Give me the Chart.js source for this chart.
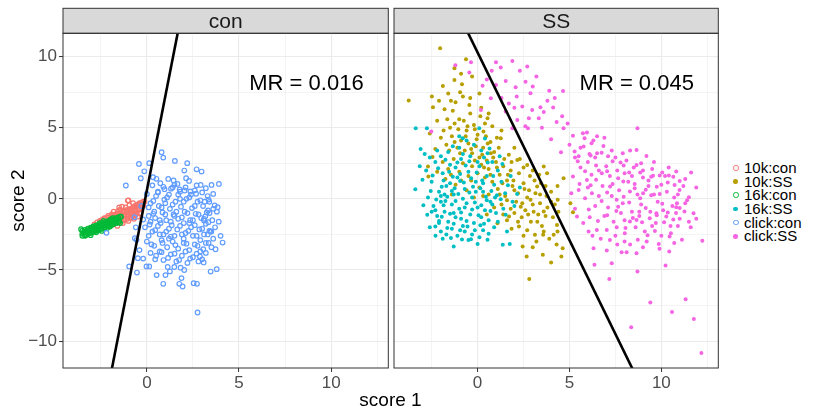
<!DOCTYPE html>
<html>
<head>
<meta charset="utf-8">
<script src="https://cdn.jsdelivr.net/npm/chart.js@4.4.1/dist/chart.umd.min.js"></script>
<style>
  body { margin: 0; background: #fff; font-family: "Liberation Sans", Arial, sans-serif; }
  #wrap { position: relative; width: 818px; height: 410px; overflow: hidden; }
  canvas { position: absolute; top: 0; }
  #c1 { left: 0; }
  #c2 { left: 392px; }
  #xtitle { position: absolute; top: 389px; left: 0; width: 781px; text-align: center; font-size: 19px; color: #000; line-height: 22px; }
  #legend { position: absolute; left: 733px; top: 161px; font-size: 15px; color: #000; }
  .row { display: flex; align-items: center; height: 13.7px; line-height: 13.7px; }
  .mk { width: 5.5px; height: 5.5px; border-radius: 50%; box-sizing: border-box; margin-right: 5.5px; }
</style>
</head>
<body>
<div id="wrap">
  <canvas id="c1" width="392" height="410"></canvas>
  <canvas id="c2" width="330" height="410"></canvas>
  <div id="xtitle">score 1</div>
  <div id="legend"></div>
</div>
<script>
// facet labels and per-panel model accuracy text
const panels = ['con', 'SS'];
const mrLabels = ['MR = 0.016', 'MR = 0.045'];
const mrPos = [8.66, 8.08];

// group names and colours (ggplot default hue palette)
const groups = ['10k:con', '10k:SS', '16k:con', '16k:SS', 'click:con', 'click:SS'];
const colors = ['#F8766D', '#B79F00', '#00BA38', '#00BFC4', '#619CFF', '#F564E3'];

// axis ranges and ticks
const xRange = [-4.55, 13.1];
const yRange = [-11.89, 11.64];
const xTicks = [-2.5, 0, 2.5, 5, 7.5, 10, 12.5];
const yTicks = [-10, -7.5, -5, -2.5, 0, 2.5, 5, 7.5, 10];

// discriminant lines, endpoints [x, y]
const conLine = [[-1.907, -12], [1.725, 12]];
const ssLine = [[8.448, -12], [-0.648, 12]];

// scores, control panel
const k10con = [
  [-3.2,-2.3],[-3.0,-2.2],[-2.8,-2.0],[-2.6,-1.95],[-2.4,-1.8],[-2.2,-1.6],[-2.0,-1.5],[-1.9,-1.3],[-1.8,-1.5],[-1.7,-1.2],
  [-1.6,-1.4],[-1.5,-1.0],[-1.4,-1.3],[-1.3,-0.9],[-1.2,-1.1],[-1.1,-0.8],[-1.0,-1.2],[-0.9,-0.7],[-0.8,-1.0],[-0.7,-0.6],
  [-0.6,-0.8],[-0.5,-0.4],[-0.4,-0.7],[-0.3,-0.3],[-0.2,-0.2],[-1.0,-0.1],[-1.5,-0.6],[-1.8,-0.9],[-2.1,-1.2],[-1.35,-0.55],
  [-0.95,-0.45],[-0.75,-0.3],[-1.65,-1.05],[-1.25,-1.45],[-0.55,-1.0],[-2.3,-1.35],[-0.85,-1.3],[-1.55,-0.85],[-1.15,-0.6],[-0.65,-0.5],
  [-0.13,-0.19],[-1.03,-0.12],[-0.40,-0.30],[-0.76,-0.65],[-1.45,-0.75],[-1.9,-1.1],[-2.5,-1.6],
  [-2.4,-1.45],[-2.4,-1.75],[-2.25,-1.38],[-2.25,-1.7],[-2.1,-1.3],[-2.1,-1.62],[-1.95,-1.22],[-1.95,-1.55],[-1.95,-1.85],[-1.8,-1.15],
  [-1.8,-1.48],[-1.8,-1.78],[-1.65,-1.08],[-1.65,-1.4],[-1.65,-1.7],[-1.5,-1.32],[-1.5,-1.62],[-1.35,-0.92],[-1.35,-1.25],[-1.35,-1.55],
  [-1.2,-0.85],[-1.2,-1.18],[-1.2,-1.48],[-1.05,-0.78],[-1.05,-1.1],[-1.05,-1.4],[-0.9,-1.02],[-0.9,-1.32],[-0.75,-0.62],[-0.75,-0.95],
  [-0.75,-1.22],[-0.6,-0.55],[-0.6,-0.86],[-0.6,-1.12],[-0.45,-0.47],[-0.45,-0.78],[-0.3,-0.4],[-0.3,-0.7],[-0.2,-0.5],[-2.55,-1.55],
  [-2.7,-1.65],[-2.85,-1.8],[-1.1,-0.95],[-1.4,-1.1],[-0.8,-0.8],[-1.7,-1.25],
  [-1.3,-1.7],[-1.0,-1.55],[-0.7,-1.4],[-0.5,-1.25],[-1.6,-1.9],[-0.35,-1.0]
];
const k16con = [
  [-3.57,-2.13],[-3.5,-2.45],[-3.4,-2.3],[-3.3,-2.5],[-3.2,-2.2],[-3.1,-2.4],[-3.0,-2.1],[-2.9,-2.3],[-2.8,-2.0],[-2.7,-2.2],
  [-2.6,-1.9],[-2.5,-2.1],[-2.4,-1.8],[-2.3,-2.0],[-2.2,-1.7],[-2.1,-1.9],[-2.0,-1.6],[-1.9,-1.8],[-1.8,-1.5],[-1.7,-1.7],
  [-1.6,-1.4],[-1.5,-1.55],[-1.4,-1.25],[-1.45,-1.7],[-2.75,-2.35],[-3.05,-2.55],[-2.45,-2.25],[-2.15,-2.05],[-1.85,-1.35],[-2.55,-1.7],
  [-3.25,-2.35],[-2.0,-1.95],[-1.65,-1.6],[-2.35,-1.55],[-2.9,-1.95],[-3.35,-2.6],[-2.65,-2.15],[-1.95,-1.45],
  [-3.5,-2.23],[-3.5,-2.6],[-3.35,-2.18],[-3.35,-2.55],[-3.2,-2.1],[-3.2,-2.45],[-3.05,-2.02],[-3.05,-2.4],[-2.9,-1.94],[-2.9,-2.33],
  [-2.75,-1.87],[-2.75,-2.25],[-2.6,-1.8],[-2.6,-2.18],[-2.45,-1.72],[-2.45,-2.1],[-2.3,-1.65],[-2.3,-2.03],[-2.15,-1.58],[-2.15,-1.95],
  [-2.0,-1.5],[-2.0,-1.88],[-1.85,-1.43],[-1.85,-1.8],[-1.7,-1.36],[-1.7,-1.72],[-1.55,-1.3],[-1.55,-1.64],[-1.45,-1.25],
  [-3.43,-2.4],[-3.28,-2.32],[-3.13,-2.25],[-2.98,-2.17],[-2.83,-2.1],[-2.68,-2.02],[-2.53,-1.95],[-2.38,-1.88],[-2.23,-1.8],[-2.08,-1.73],
  [-1.93,-1.66],[-1.78,-1.58],[-1.63,-1.5]
];
const clickCon = [
  [0.80,3.28],[0.89,2.90],[1.52,2.67],[2.19,2.51],[-0.43,2.46],[0.13,2.51],[-0.14,1.94],[2.70,2.08],[2.97,1.92],[2.03,1.99],
  [-1.14,0.94],[3.91,1.05],[3.51,0.98],[2.92,0.98],[3.39,-0.21],[3.84,-0.59],[4.11,-3.07],[3.73,-3.54],[3.08,-4.47],[3.46,-5.11],
  [3.79,-4.94],[2.75,-7.99],[2.54,-5.93],[2.72,-5.97],[1.94,-6.16],[1.76,-5.97],[0.89,-5.97],[1.88,-5.57],[1.01,-5.36],[0.53,-5.36],
  [-0.54,-5.18],[-0.96,-4.75],[-0.49,-4.17],[-0.02,-4.75],[0.13,-4.75],[-0.65,-2.76],[-0.56,-2.88],[-0.67,-1.29],[-2.19,-2.39],[3.39,-2.25],
  [3.34,-1.64],[3.10,-1.52],[2.88,-4.05],[3.06,-3.54],[-0.33,1.45],[0.34,1.52],[0.52,1.41],[1.16,1.40],[1.45,1.29],[1.66,1.05],
  [2.13,1.45],[2.29,1.26],[0.73,1.10],[0.96,0.68],[1.31,0.72],[1.78,0.66],[2.05,0.59],[2.36,0.52],[2.67,0.36],[3.14,-0.20],
  [3.68,-0.46],[3.32,-0.81],[3.17,-1.23],[3.45,-2.29],[1.13,-4.79],[1.49,-4.79],[1.25,-5.10],[1.83,-4.84],[2.03,-5.00],
  [0.2,-0.3],[0.5,0.2],[0.8,-0.6],[1.1,0.1],[1.4,-0.4],[1.7,0.3],[2.0,-0.2],[2.3,0.1],[2.6,-0.5],[2.9,-0.1],
  [0.1,-1.2],[0.4,-0.9],[0.7,-1.5],[1.0,-1.1],[1.3,-1.6],[1.6,-0.9],[1.9,-1.3],[2.2,-1.0],[2.5,-1.5],[2.8,-1.1],[3.1,-1.4],[3.4,-1.0],
  [-0.1,-2.0],[0.3,-2.3],[0.6,-1.9],[0.9,-2.5],[1.2,-2.1],[1.5,-2.6],[1.8,-1.9],[2.1,-2.4],[2.4,-2.0],[2.7,-2.6],[3.0,-2.1],[3.3,-2.5],[3.7,-2.0],
  [0.0,-3.0],[0.4,-3.3],[0.8,-2.9],[1.1,-3.4],[1.4,-3.0],[1.7,-3.5],[2.0,-3.1],[2.3,-3.6],[2.6,-3.2],[2.9,-3.7],[3.2,-3.1],[3.5,-3.4],
  [0.5,-4.0],[0.9,-4.3],[1.3,-3.9],[1.6,-4.4],[1.9,-4.0],[2.2,-4.5],[2.5,-4.1],[2.8,-4.4],
  [1.0,-0.3],[1.5,-1.2],[2.0,-2.8],[2.3,-1.7],[1.2,-2.8],[0.7,-3.7],[2.9,-2.9],[3.6,-2.8],[0.2,-1.6],[1.8,0.0],
  [2.6,0.6],[1.4,0.8],[0.6,0.5],[-0.3,-0.5],[-0.6,-2.0],[-0.4,-3.6],[-0.2,-4.2],[3.9,-1.6],[4.0,-2.6],[3.8,-0.9],[3.3,0.2],
  [0.3,0.95],[0.9,0.85],[1.5,1.0],[2.1,0.8],[2.7,0.95],[3.2,0.75],[0.0,0.35],[0.6,0.45],[1.2,0.3],[1.8,0.5],
  [2.4,0.3],[3.0,0.45],[3.6,0.35],[0.35,-0.15],[0.95,-0.05],[1.55,-0.2],[2.15,0.0],[2.75,-0.2],[3.35,-0.05],[0.1,-0.6],
  [0.65,-0.5],[1.25,-0.7],[1.85,-0.55],[2.45,-0.65],[3.05,-0.5],[3.6,-0.7],[0.35,-1.05],[0.85,-0.95],[1.45,-1.1],[2.05,-0.9],
  [2.65,-1.05],[3.25,-0.95],[-0.2,-1.45],[0.45,-1.35],[1.05,-1.5],[1.7,-1.4],[2.35,-1.5],[2.95,-1.35],[3.55,-1.5],[0.15,-1.8],
  [0.75,-1.7],[1.35,-1.85],[2.0,-1.7],[2.6,-1.85],[3.2,-1.75],[0.45,-2.2],[1.05,-2.3],[1.65,-2.15],[2.25,-2.25],[2.85,-2.15],
  [3.5,-2.3],[0.1,-2.6],[0.7,-2.5],[1.3,-2.65],[1.9,-2.5],[2.5,-2.6],[3.1,-2.5],[0.25,-3.2],[0.85,-3.1],[1.55,-3.25],
  [2.15,-3.15],[2.75,-3.3],[3.35,-3.1],[0.2,-3.8],[0.8,-3.75],[1.5,-3.85],[2.1,-3.7],[2.7,-3.85],[3.2,-3.8],[0.45,-4.25],
  [1.15,-4.15],[1.75,-4.3],[2.35,-4.2],[3.0,-4.25]
];

// scores, SS panel
const k10ss = [
  [-2.04,10.59],[-3.75,6.91],[-0.63,9.81],[-1.26,9.18],[-0.85,8.06],[-1.89,7.94],[-2.49,7.19],[-2.43,6.44],[-1.26,8.36],[-2.70,2.27],
  [-2.68,1.57],[2.81,-5.64],[2.67,-4.05],[3.55,-3.93],[4.00,-4.47],[4.56,-4.05],[4.63,-3.47],[2.45,-3.35],[3.12,-2.53],[3.57,-2.53],
  [4.14,-2.53],[4.32,-1.83],[5.05,-0.30],[5.19,-0.94],[4.36,-0.07],[4.68,1.45],[2.25,-1.94],[1.71,-1.24],[1.08,-1.71],[1.26,4.26],
  [0.54,5.67],[0.32,4.73],[0.72,3.21],[2.16,2.74],[2.70,2.39],[3.60,2.27],[3.78,1.80],[3.24,0.87],[2.88,-0.07],[2.43,-0.30],[3.60,-0.89],
  [-2.2,5.5],[-1.8,6.3],[-1.5,5.0],[-1.2,6.8],[-1.0,5.6],[-0.8,7.2],[-0.6,4.8],[-0.4,6.0],[-0.2,5.2],[0.0,4.5],[0.2,6.4],[0.4,5.3],
  [-2.0,4.3],[-1.7,3.8],[-1.4,4.4],[-1.1,3.6],[-0.9,4.1],[-0.7,3.4],[-0.5,3.9],[-0.3,3.2],[-0.1,3.7],[0.1,2.9],[0.3,3.6],[0.5,2.7],[0.7,4.0],[0.9,3.3],
  [-1.9,2.6],[-1.6,2.1],[-1.3,2.8],[-1.0,1.9],[-0.8,2.5],[-0.5,1.6],[-0.3,2.3],[0.0,1.8],[0.2,2.4],[0.4,1.5],[0.6,2.1],[0.8,1.2],[1.0,2.6],[1.2,1.7],[1.4,2.3],[1.6,1.3],[1.8,2.0],
  [-1.2,1.0],[-0.6,0.6],[0.1,0.8],[0.6,0.3],[1.1,0.7],[1.5,0.2],[1.9,0.9],[2.2,0.4],[2.5,1.1],[2.8,0.6],[3.1,1.3],[3.4,0.3],[3.7,0.9],[4.0,0.5],[4.2,-0.4],
  [1.3,-0.4],[1.8,-0.7],[2.1,-0.2],[2.6,-0.8],[3.0,-0.4],[3.3,-1.1],[3.8,-0.6],[2.4,-1.3],[2.9,-1.6],[3.5,-1.9],[4.1,-1.3],[4.4,-0.9],[2.0,-1.0],[1.6,-1.5],
  [-1.4,0.3],[-2.3,3.5],[-2.6,4.6],[-0.2,0.1],[0.9,-0.6],[1.7,3.1],[2.3,2.8],[2.0,3.6],[1.3,4.8],[0.8,5.1],[-1.6,7.4],[-0.3,8.6],[-0.9,8.8],
  [-2.1,6.9],[0.5,-1.1],[2.7,-2.2],[3.9,-2.8],[4.3,-3.2],[3.2,-3.0],
  [-1.65,5.6],[-1.35,6.2],[-1.05,4.9],[-0.75,5.5],[-0.45,6.6],[-0.15,4.9],[0.15,5.8],[0.45,4.4],[-1.85,4.8],[-1.25,5.3],
  [-0.55,5.1],[0.6,6.0],[-0.95,7.5],[-0.4,7.1],[-1.45,6.9],[0.1,7.4],[-1.55,3.4],[-1.25,4.0],[-0.95,3.2],[-0.65,4.4],
  [-0.35,3.5],[-0.05,4.2],[0.25,3.1],[0.55,3.9],[0.85,2.9],[1.15,3.6],[1.45,2.8],[1.05,4.3],[-0.15,2.7],[0.35,2.2],
  [0.7,1.7],[1.05,2.2],[1.35,1.1],[1.65,1.7],[1.95,1.3],[2.25,1.8],[2.55,0.7],[2.85,1.6],[3.15,0.4],[3.45,1.1],
  [3.75,0.2],[1.2,0.3],[1.6,-0.1],[2.0,0.6],[2.35,-0.55],[2.7,0.1],[3.05,-0.9],[3.4,-0.3],[3.7,-1.2],[4.0,-0.2],
  [2.2,-1.6],[2.75,-1.1],[3.25,-1.6],[3.6,-2.3],[2.5,-2.6],[3.0,-3.4],[4.35,-2.3],[1.4,-1.1],[1.85,-2.1],[-1.75,1.4],
  [-1.45,1.7],[-0.9,1.3],[-0.35,1.3],[0.3,0.2],[-2.45,2.95],[-2.2,1.9],[1.85,2.6],[2.5,2.2],[3.0,2.0],[3.35,1.7],[4.35,0.9]
];
const k16ss = [
  [-3.39,0.68],[-3.37,4.96],[-2.76,4.96],[-3.10,3.51],[-2.88,3.16],[-2.74,-1.12],[-2.29,-2.60],[-1.30,-3.35],[-0.36,-2.83],[0.00,-3.18],
  [0.54,-2.88],[1.37,-3.23],[1.75,-3.18],[1.53,-1.12],[1.26,-0.02],[0.09,4.96],[-0.81,4.26],[0.54,3.21],
  [-2.8,2.0],[-2.5,1.2],[-2.3,2.6],[-2.1,0.5],[-1.9,1.8],[-1.7,0.9],[-1.5,2.4],[-1.3,0.3],[-1.1,1.5],[-0.9,2.8],[-0.7,0.7],[-0.5,1.9],
  [-0.3,0.1],[-0.1,1.2],[0.1,2.3],[0.3,0.5],[0.5,1.6],[0.7,-0.2],[0.9,1.0],[1.1,2.0],
  [-2.7,0.1],[-2.4,-0.5],[-2.2,-1.2],[-2.0,-0.2],[-1.8,-0.9],[-1.6,-1.6],[-1.4,-0.4],[-1.2,-1.3],[-1.0,-0.7],[-0.8,-1.9],[-0.6,-0.3],
  [-0.4,-1.1],[-0.2,-1.7],[0.0,-0.6],[0.2,-1.3],[0.4,-0.8],[0.6,-1.5],[0.8,-0.4],[1.0,-1.0],
  [-2.6,-2.0],[-2.0,-2.3],[-1.7,-2.5],[-1.4,-2.1],[-1.1,-2.6],[-0.7,-2.3],[-0.3,-2.5],[0.3,-2.2],[0.9,-2.0],[-1.9,-2.8],[-0.5,-2.9],
  [-1.6,3.3],[-1.0,3.6],[-0.4,3.0],[0.2,3.4],[0.8,2.6],[-2.0,3.0],[-0.6,4.1],[1.3,1.2],[1.5,0.4],[1.8,1.6],[2.0,-0.5],[2.3,0.8],
  [-1.2,2.2],[-0.8,0.0],[-1.5,1.1],[-2.3,-0.8],[0.0,2.6],[0.5,-0.1],[-1.3,-1.0],[-0.1,0.5],[-2.1,-1.7],[-1.8,0.3],[-0.9,-1.4],[0.3,1.1],
  [-2.45,1.65],[-2.15,2.15],[-1.85,1.3],[-1.55,1.9],[-1.25,0.75],[-0.95,1.25],[-0.65,2.35],[-0.35,1.45],[-0.05,1.85],[0.25,1.3],
  [0.55,2.55],[0.85,1.6],[-2.55,0.55],[-2.25,-0.05],[-1.95,0.85],[-1.65,0.15],[-1.35,1.55],[-1.05,0.35],[-0.75,1.15],[-0.45,0.45],
  [-0.15,-0.25],[0.15,0.75],[0.45,0.15],[0.75,0.55],[1.05,0.25],[-2.5,-0.9],[-2.1,-1.55],[-1.85,-0.45],[-1.5,-1.05],[-1.2,-0.15],
  [-0.9,-0.95],[-0.6,-1.55],[-0.3,-0.75],[0.05,-1.15],[0.35,-1.75],[0.7,-0.85],[1.1,-1.6],[-2.3,-1.95],[-1.95,-1.25],[-1.65,-2.05],
  [-1.3,-1.75],[-0.95,-2.2],[-0.55,-1.95],[-0.15,-2.2],[0.15,-1.85],[0.6,-2.45],[-1.45,-2.75],[-0.85,-2.85],[0.1,-2.7],[-2.6,2.9],
  [-2.2,3.4],[-1.75,2.75],[-1.35,3.7],[-0.8,3.15],[-0.2,3.8],[0.35,2.9],[0.65,3.55],[-1.1,2.55],[-0.45,2.65],[1.35,2.45],
  [1.65,0.95],[1.9,-0.2],[2.15,0.35],[1.4,-0.7],[-3.0,1.35],[-2.95,-0.45],[-3.15,2.3],[-1.0,4.4],[0.4,4.25],[1.2,3.0],
  [1.6,-2.3],[-1.75,-0.15],[-0.25,0.85],[-2.0,0.2],[-0.7,-0.6],[0.95,0.1],[-1.4,0.55],[-0.95,1.75],[0.2,-0.45]
];
const clickSs = [
  [1.89,9.70],[-0.36,9.60],[-1.21,9.39],[-0.45,8.88],[1.26,9.23],[0.77,9.00],[1.53,8.29],[2.61,8.24],[0.27,7.96],[2.07,7.85],
  [4.65,7.59],[2.88,7.42],[0.72,7.07],[2.13,7.19],[2.43,6.49],[4.11,6.42],[3.42,6.44],[2.97,6.25],[0.18,6.25],[1.53,6.14],
  [2.79,5.67],[3.33,5.67],[2.16,5.55],[8.70,4.96],[4.68,4.96],[1.89,4.96],[2.74,4.96],[5.19,4.43],[5.73,4.61],[5.95,4.66],
  [5.82,4.26],[6.20,3.91],[6.85,3.72],[5.77,3.68],[5.28,3.33],[4.54,3.28],[6.09,3.16],[8.65,3.44],[9.19,3.02],[7.78,2.55],
  [8.65,2.39],[10.81,1.92],[11.62,1.85],[10.41,1.64],[9.91,1.64],[9.55,1.62],[5.19,1.57],[5.95,1.33],[6.76,1.80],[7.93,1.22],
  [7.21,0.87],[10.72,0.98],[10.99,0.63],[11.50,0.12],[9.91,0.35],[9.01,0.40],[8.29,0.52],[7.57,-0.07],[6.22,0.40],[5.50,0.63],
  [10.85,-0.30],[11.26,-0.89],[11.75,-1.01],[10.81,-0.59],[9.73,-1.01],[10.27,-1.24],[9.37,-1.36],[8.65,-1.48],[8.29,-1.59],[7.57,-1.99],
  [7.03,-2.18],[6.49,-2.18],[6.04,-2.30],[5.41,-1.24],[8.01,-2.41],[8.72,-2.88],[9.86,-3.18],[10.52,-2.41],[11.12,-2.88],[12.23,-2.95],
  [10.43,-3.70],[6.31,-3.47],[7.03,-3.63],[7.84,-3.75],[8.11,-3.75],[8.65,-3.82],[6.36,-4.64],[7.30,-4.52],[10.23,-4.68],[8.70,-5.11],
  [7.17,-5.64],[9.40,-7.28],[11.32,-7.05],[10.58,-7.96],[11.77,-8.45],[8.36,-9.02],[12.18,-10.84],[-2.52,4.73],
  [6.0,2.6],[6.5,3.2],[7.0,2.3],[7.5,2.9],[8.0,1.8],[8.5,2.2],[9.0,1.5],[9.5,2.1],[10.0,1.0],
  [5.6,2.2],[6.2,1.7],[6.8,0.9],[7.2,1.6],[7.7,0.6],[8.2,1.2],[8.7,0.3],[9.3,0.9],[9.8,-0.2],[10.3,0.5],[10.6,-0.5],
  [6.0,0.8],[6.6,0.2],[7.1,-0.6],[7.9,-0.3],[8.4,-0.9],[8.9,-0.4],[9.4,-0.9],[9.7,-1.7],[10.1,-0.8],[10.5,-1.9],[11.0,-1.4],
  [6.9,-1.2],[7.4,-1.6],[7.8,-1.0],[8.6,-2.0],[9.1,-2.3],[9.5,-1.9],[10.0,-2.6],[11.3,-0.3],[11.5,-1.6],[10.9,0.3],
  [5.3,2.9],[5.6,3.6],[6.3,4.1],[6.6,2.0],[7.3,3.4],[7.6,2.0],[8.1,2.7],[8.4,1.6],[8.9,2.5],[9.3,1.3],[9.6,0.3],[10.2,1.6],[10.7,0.1],[11.2,0.9],
  [6.4,-0.5],[7.3,0.2],[8.0,-1.5],[8.8,-1.2],[9.2,-3.0],[7.5,-2.6],[6.7,-2.8],[10.8,-1.0],[9.9,-3.5],[8.3,-3.2],
  [4.6,5.8],[3.8,6.9],[1.0,8.0],[3.0,7.9],[4.0,4.2],[5.0,3.8],[2.3,9.0],[1.7,6.7],[3.5,5.0],[5.1,0.4],[5.3,-0.7],[6.1,-1.3],
  [5.45,2.65],[5.85,1.95],[6.15,3.05],[6.45,2.35],[6.75,3.25],[7.05,1.95],[7.35,2.65],[7.65,1.45],[7.95,2.35],[8.25,1.85],
  [8.55,1.05],[8.85,1.85],[9.15,0.65],[9.45,1.55],[9.75,0.85],[10.05,1.85],[10.35,1.15],[10.65,1.55],[11.0,1.25],[5.55,1.05],
  [5.85,0.05],[6.15,0.95],[6.45,1.35],[6.75,-0.15],[7.05,0.45],[7.35,1.05],[7.65,-0.55],[7.95,0.15],[8.25,-0.25],[8.55,0.75],
  [8.85,0.05],[9.15,-0.65],[9.45,0.25],[9.75,-1.15],[10.05,-0.35],[10.35,-0.95],[10.65,-1.45],[11.0,-0.65],[11.4,-0.1],[6.05,-0.75],
  [6.55,-1.55],[7.05,-1.15],[7.55,-0.85],[8.05,-2.05],[8.45,-1.35],[8.95,-1.65],[9.25,-2.55],[9.65,-2.25],[10.15,-1.65],[10.45,-2.65],
  [9.0,-3.4],[7.2,-2.9],[8.0,-3.0],[10.9,-1.9],[11.6,-2.0],[6.25,-2.6],[5.75,-1.7],[4.9,5.3],[4.3,5.4],[3.9,7.6],
  [3.2,8.6],[1.0,9.6],[0.5,8.4],[2.0,6.4],[2.6,5.1],[3.6,6.1],[4.2,7.1],[1.3,7.1],[2.7,9.3],[6.5,4.4],
  [7.1,3.0],[7.9,3.2],[8.3,3.4],[9.6,2.6],[10.4,2.2],[11.3,1.4],[9.0,2.0],[6.9,4.3],[5.5,3.0],[6.4,2.9],
  [8.8,-0.9],[7.6,-3.2],[10.7,-3.1],[11.9,-1.4],[11.9,0.8]
];

const FONT = '"Liberation Sans", Arial, sans-serif';
const pts = arr => arr.map(([x, y]) => ({ x, y }));
const isMajor = v => v % 5 === 0;
const fmt = v => (v < 0 ? '\u2212' + Math.abs(v) : String(v));

function pointSet(label, data, color, open) {
  return {
    label,
    data: pts(data),
    pointStyle: 'circle',
    pointRadius: open ? 2.3 : 2.0,
    pointBorderWidth: open ? 1.2 : 0,
    pointBorderColor: color,
    pointBackgroundColor: open ? 'rgba(0,0,0,0)' : color,
    pointHoverRadius: 0
  };
}

function lineSet(ends) {
  return {
    type: 'line',
    data: pts(ends),
    borderColor: '#000',
    borderWidth: 2.6,
    pointRadius: 0,
    fill: false
  };
}

// strip, panel border and annotation
const facetPlugin = {
  id: 'facet',
  beforeDraw(chart) {
    const { ctx, chartArea: a } = chart;
    const o = chart.options.plugins.facet;
    ctx.save();
    ctx.fillStyle = '#D9D9D9';
    ctx.fillRect(a.left, 8.3, a.right - a.left, a.top - 8.3);
    ctx.strokeStyle = '#333333';
    ctx.lineWidth = 1;
    ctx.strokeRect(a.left, 8.3, a.right - a.left, a.top - 8.3);
    ctx.fillStyle = '#1A1A1A';
    ctx.font = '21px ' + FONT;
    ctx.textAlign = 'center';
    ctx.textBaseline = 'middle';
    ctx.fillText(o.strip, (a.left + a.right) / 2, (8.3 + a.top) / 2 + 1);
    ctx.restore();
  },
  afterDraw(chart) {
    const { ctx, chartArea: a, scales } = chart;
    const o = chart.options.plugins.facet;
    ctx.save();
    ctx.fillStyle = '#000';
    ctx.font = '22px ' + FONT;
    ctx.textAlign = 'center';
    ctx.textBaseline = 'middle';
    ctx.fillText(o.mr, scales.x.getPixelForValue(mrPos[0]), scales.y.getPixelForValue(mrPos[1]));
    ctx.strokeStyle = '#333333';
    ctx.lineWidth = 1;
    ctx.strokeRect(a.left, a.top, a.right - a.left, a.bottom - a.top);
    ctx.restore();
  }
};

function gridOpts() {
  return {
    color: c => '#EBEBEB',
    lineWidth: c => (c.tick && isMajor(c.tick.value) ? 1.1 : 0.55),
    tickColor: c => (c.tick && isMajor(c.tick.value) ? '#333333' : 'rgba(0,0,0,0)'),
    tickWidth: 1,
    tickLength: 4
  };
}

function makePanel(id, idx, datasets, showY) {
  return new Chart(document.getElementById(id), {
    type: 'scatter',
    data: { datasets },
    plugins: [facetPlugin],
    options: {
      responsive: false,
      animation: false,
      devicePixelRatio: 1,
      layout: { padding: showY ? { top: 33.3, right: 3.7, left: 0, bottom: 0 } : { top: 33.3, right: 3.7, left: 0.7, bottom: 0 } },
      plugins: {
        legend: { display: false },
        tooltip: { enabled: false },
        facet: { strip: panels[idx], mr: mrLabels[idx] }
      },
      scales: {
        x: {
          type: 'linear',
          min: xRange[0],
          max: xRange[1],
          afterBuildTicks: s => { s.ticks = xTicks.map(v => ({ value: v })); },
          afterFit: s => { s.height = 42; },
          grid: gridOpts(),
          border: { display: false },
          ticks: {
            autoSkip: false,
            maxRotation: 0,
            padding: 1,
            color: '#4D4D4D',
            font: { family: FONT, size: 17 },
            callback: v => (isMajor(v) ? fmt(v) : '')
          }
        },
        y: {
          type: 'linear',
          min: yRange[0],
          max: yRange[1],
          afterBuildTicks: s => { s.ticks = yTicks.map(v => ({ value: v })); },
          afterFit: s => { s.width = showY ? 63 : 0; },
          grid: showY ? gridOpts() : { color: '#EBEBEB', lineWidth: c => (c.tick && isMajor(c.tick.value) ? 1.1 : 0.55), drawTicks: false },
          border: { display: false },
          title: {
            display: showY,
            text: 'score 2',
            color: '#000',
            font: { family: FONT, size: 19 },
            padding: { top: 7, bottom: 0 }
          },
          ticks: {
            display: showY,
            autoSkip: false,
            padding: 2,
            color: '#4D4D4D',
            font: { family: FONT, size: 17 },
            callback: v => (isMajor(v) ? fmt(v) : '')
          }
        }
      }
    }
  });
}

// first dataset is drawn on top
makePanel('c1', 0, [
  lineSet(conLine),
  pointSet(groups[4], clickCon, colors[4], true),
  pointSet(groups[2], k16con, colors[2], true),
  pointSet(groups[0], k10con, colors[0], true)
], true);

makePanel('c2', 1, [
  lineSet(ssLine),
  pointSet(groups[5], clickSs, colors[5], false),
  pointSet(groups[3], k16ss, colors[3], false),
  pointSet(groups[1], k10ss, colors[1], false)
], false);

// legend
const legend = document.getElementById('legend');
groups.forEach((g, i) => {
  const open = g.endsWith(':con');
  const row = document.createElement('div');
  row.className = 'row';
  const mk = document.createElement('span');
  mk.className = 'mk';
  if (open) {
    mk.style.border = '1.3px solid ' + colors[i];
  } else {
    mk.style.background = colors[i];
    mk.style.width = '4.6px';
    mk.style.height = '4.6px';
    mk.style.margin = '0 6px 0 0.45px';
  }
  const tx = document.createElement('span');
  tx.textContent = g;
  row.appendChild(mk);
  row.appendChild(tx);
  legend.appendChild(row);
});
</script>
</body>
</html>
